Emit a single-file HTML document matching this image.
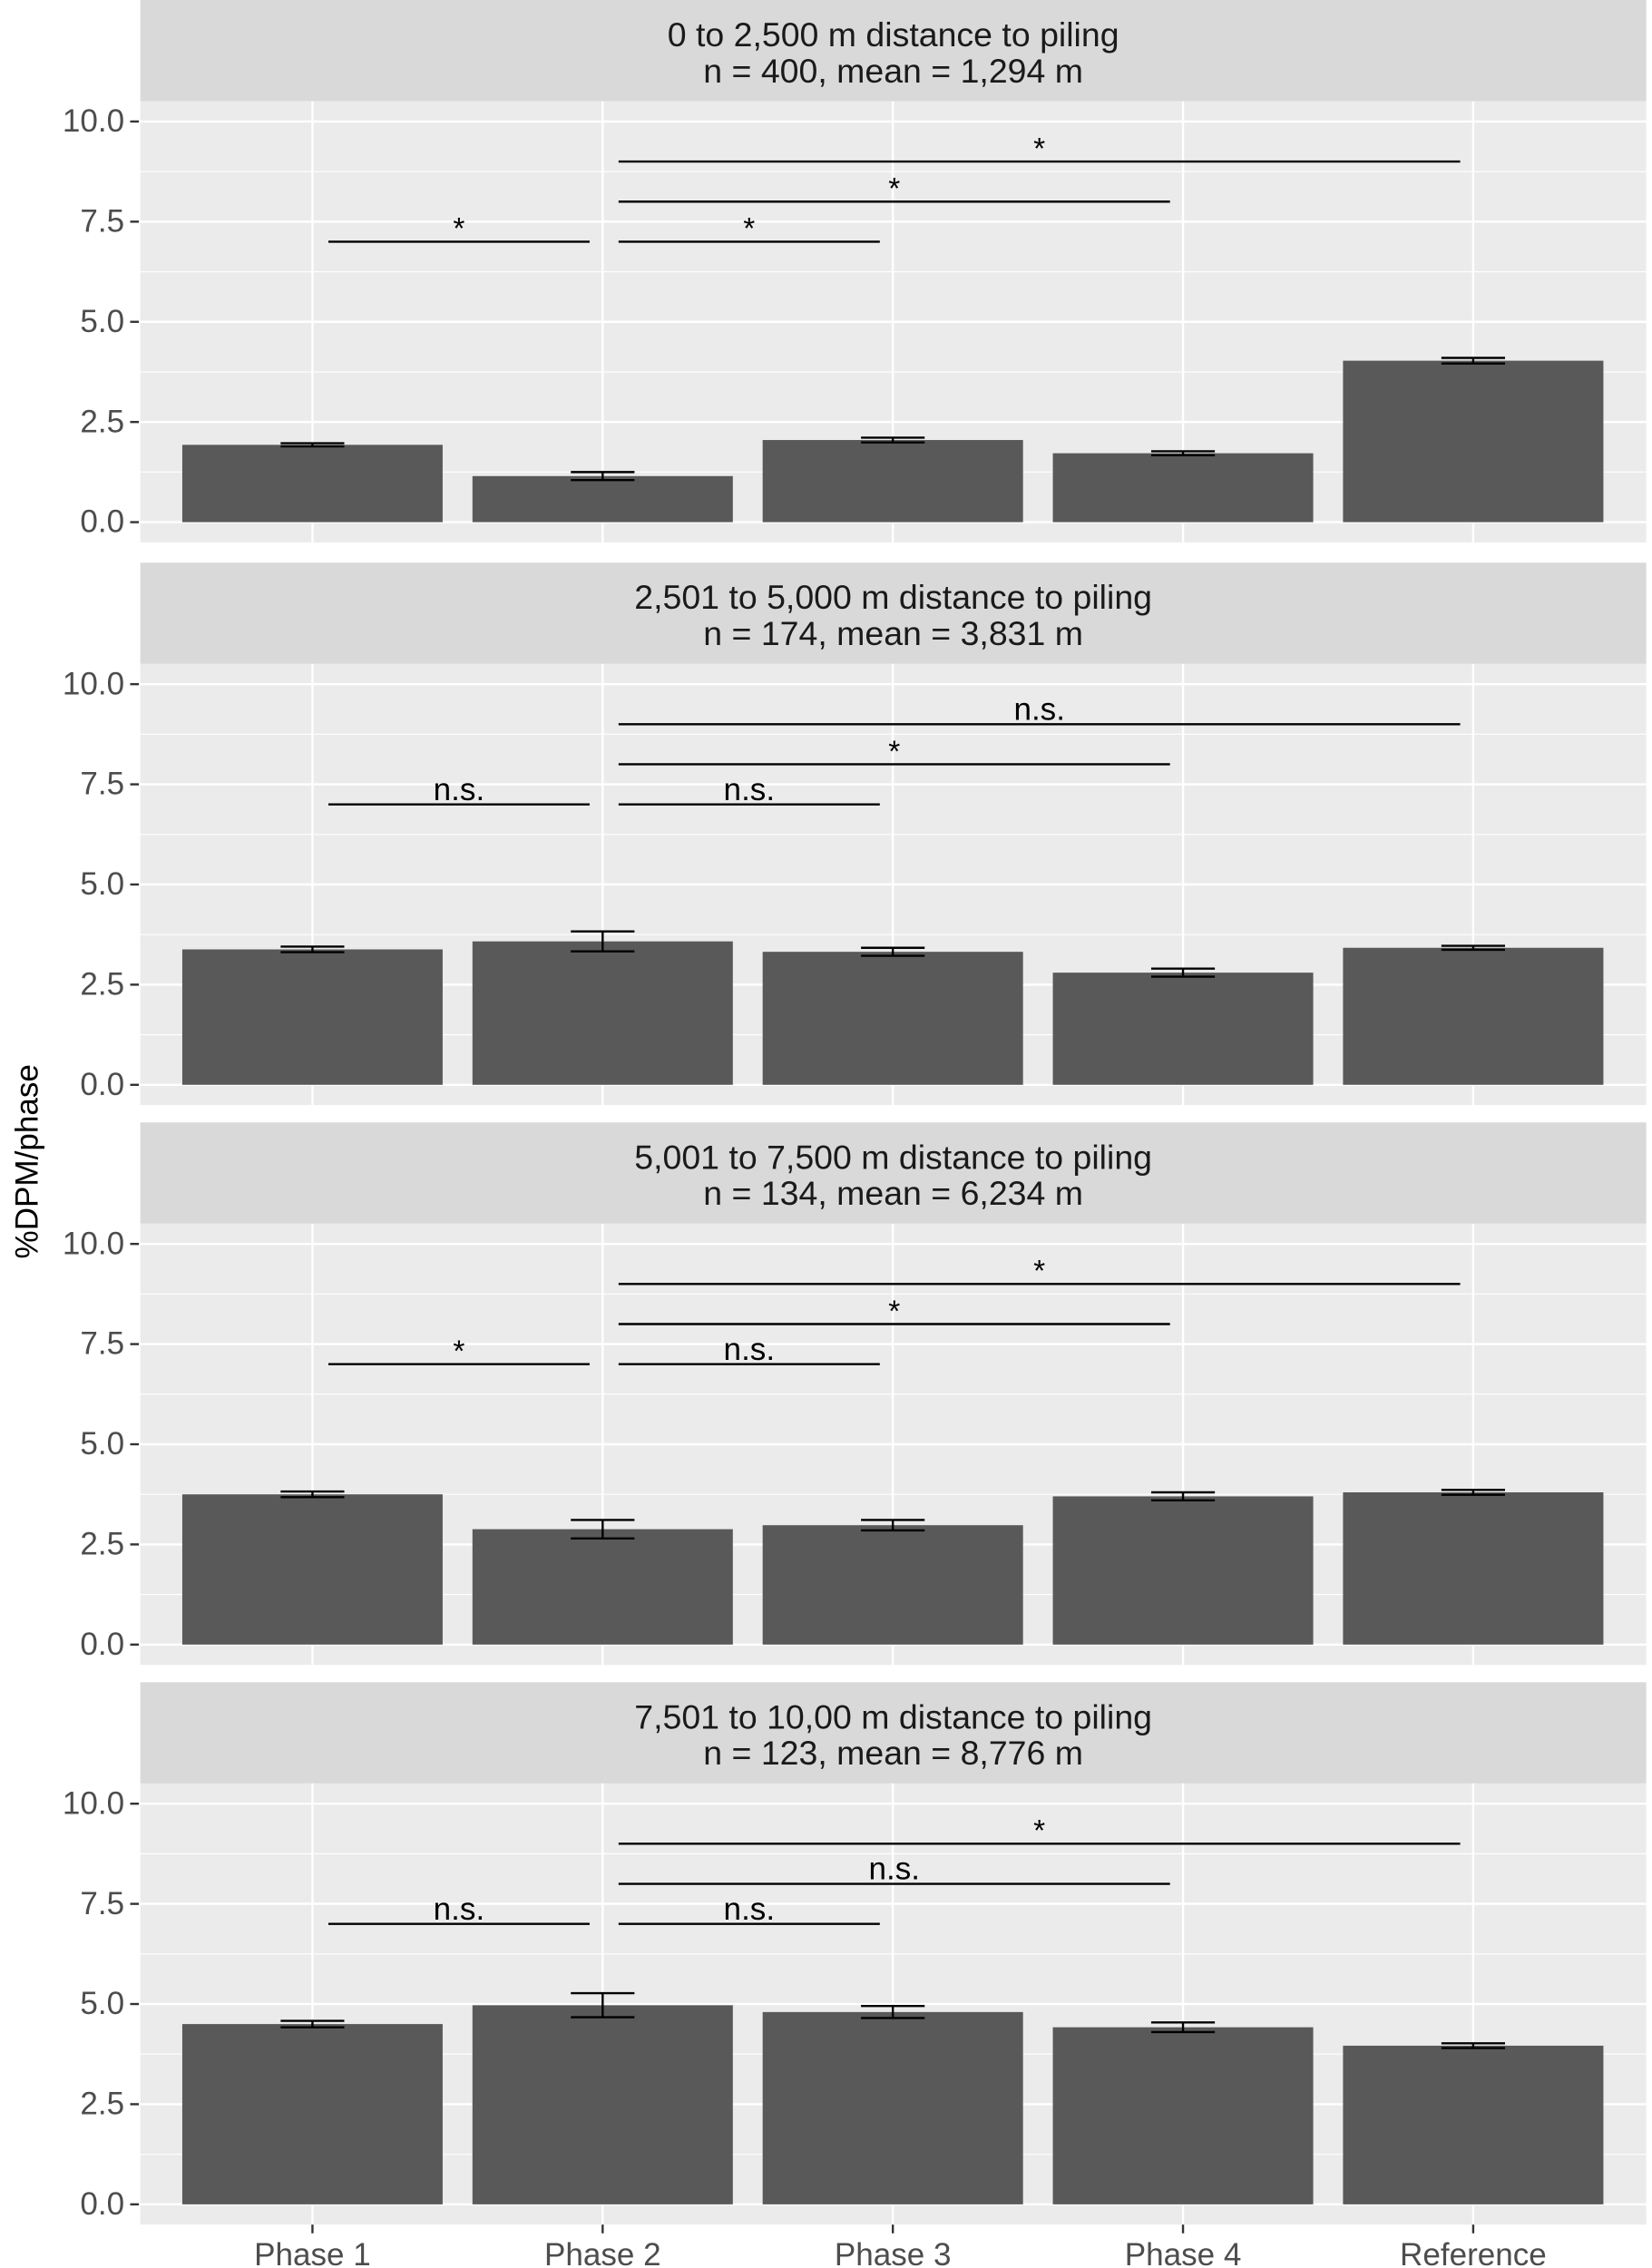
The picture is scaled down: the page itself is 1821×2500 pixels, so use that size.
<!DOCTYPE html>
<html><head><meta charset="utf-8"><style>
html,body{margin:0;padding:0;background:#fff;}
svg{display:block;font-family:"Liberation Sans",sans-serif;}
</style></head><body>
<svg id="chart" width="1821" height="2500" viewBox="0 0 1142 1568" preserveAspectRatio="none" xmlns="http://www.w3.org/2000/svg">
<text x="0" y="0" transform="translate(26,803) rotate(-90)" text-anchor="middle" font-size="22" fill="#000">%DPM/phase</text>
</svg>
<script>
const categories = ["Phase 1","Phase 2","Phase 3","Phase 4","Reference"];
const panelTitles = ["0 to 2,500 m distance to piling","2,501 to 5,000 m distance to piling","5,001 to 7,500 m distance to piling","7,501 to 10,00 m distance to piling"];
const panelSubtitles = ["n = 400, mean = 1,294 m","n = 174, mean = 3,831 m","n = 134, mean = 6,234 m","n = 123, mean = 8,776 m"];
const values1 = [1.93,1.15,2.05,1.72,4.03];
const values2 = [3.38,3.58,3.32,2.80,3.42];
const values3 = [3.75,2.88,2.98,3.70,3.80];
const values4 = [4.50,4.97,4.80,4.42,3.96];
const errors1 = [0.04,0.10,0.06,0.05,0.07];
const errors2 = [0.07,0.25,0.10,0.10,0.05];
const errors3 = [0.07,0.23,0.13,0.10,0.06];
const errors4 = [0.08,0.30,0.15,0.12,0.06];
const sigPairs = [[0,1,7.0],[1,2,7.0],[1,3,8.0],[1,4,9.0]];
const sig1 = ["*","*","*","*"];
const sig2 = ["n.s.","n.s.","*","n.s."];
const sig3 = ["*","n.s.","*","*"];
const sig4 = ["n.s.","n.s.","n.s.","*"];
const yTicks = [0,2.5,5,7.5,10];
const yTickLabels = ["0.0","2.5","5.0","7.5","10.0"];

const allValues=[values1,values2,values3,values4];
const allErrors=[errors1,errors2,errors3,errors4];
const allSig=[sig1,sig2,sig3,sig4];
const NS="http://www.w3.org/2000/svg";
const svg=document.getElementById('chart');
function mk(tag,attrs,parent){const e=document.createElementNS(NS,tag);for(const k in attrs)e.setAttribute(k,attrs[k]);(parent||svg).appendChild(e);return e;}
const plotL=97, plotR=1138;
const xScale=i=>216+i*200.6;
const barW=180;
const panelTop=[0,389,776,1163];
for(let p=0;p<4;p++){
  const t=panelTop[p];
  const y0=t+361, y10=t+84;
  const yScale=v=>y0+(y10-y0)*v/10;
  const g=mk('g',{});
  
  
  const strip=mk('rect',{x:plotL,y:t,width:plotR-plotL,height:70,fill:'#D9D9D9'},g);
  
  
  const st=mk('text',{x:(plotL+plotR)/2,y:t+32,'text-anchor':'middle','font-size':'23.5',fill:'#1A1A1A'},g);
  st.textContent=panelTitles[p];
  
  
  const st2=mk('text',{x:(plotL+plotR)/2,y:t+57,'text-anchor':'middle','font-size':'23.5',fill:'#1A1A1A'},g);
  st2.textContent=panelSubtitles[p];
  
  
  const bg=mk('rect',{x:plotL,y:t+70,width:plotR-plotL,height:305,fill:'#EBEBEB'},g);
  
  
  for(let k=0;k<4;k++){const v=1.25+2.5*k;mk('line',{x1:plotL,x2:plotR,y1:yScale(v),y2:yScale(v),stroke:'#fff','stroke-width':0.7},g);}
  yTicks.forEach((v,k)=>{
    mk('line',{x1:plotL,x2:plotR,y1:yScale(v),y2:yScale(v),stroke:'#fff','stroke-width':1.5},g);
    mk('line',{x1:90,x2:96,y1:yScale(v),y2:yScale(v),stroke:'#333','stroke-width':1.5},g);
    const tl=mk('text',{x:86,y:yScale(v)+7,'text-anchor':'end','font-size':'22',fill:'#4D4D4D'},g);
    tl.textContent=yTickLabels[k];
    
    
  });
  categories.forEach((c,i)=>{
    mk('line',{x1:xScale(i),x2:xScale(i),y1:t+70,y2:t+375,stroke:'#fff','stroke-width':1.5},g);
    if(p===3) mk('line',{x1:xScale(i),x2:xScale(i),y1:t+375,y2:t+381,stroke:'#333','stroke-width':1.5},g);
  });
  allValues[p].forEach((v,i)=>{
    const b=mk('rect',{x:xScale(i)-barW/2,y:yScale(v),width:barW,height:y0-yScale(v),fill:'#595959'},g);
    
    
    const e=allErrors[p][i];
    const eg=mk('g',{stroke:'#000','stroke-width':1.5},g);
    
    
    mk('line',{x1:xScale(i),x2:xScale(i),y1:yScale(v-e),y2:yScale(v+e)},eg);
    mk('line',{x1:xScale(i)-22,x2:xScale(i)+22,y1:yScale(v-e),y2:yScale(v-e)},eg);
    mk('line',{x1:xScale(i)-22,x2:xScale(i)+22,y1:yScale(v+e),y2:yScale(v+e)},eg);
  });
  sigPairs.forEach((sp,k)=>{
    const x1=xScale(sp[0])+11, x2=xScale(sp[1])-9, y=yScale(sp[2]);
    const l=mk('line',{x1:x1,x2:x2,y1:y,y2:y,stroke:'#000','stroke-width':1.5},g);
    
    
    const lab=allSig[p][k];
    const tx=mk('text',{x:(x1+x2)/2,y:lab==='*'?y-2:y-3,'text-anchor':'middle','font-size':lab==='*'?'21':'22',fill:'#000'},g);
    tx.textContent=lab;
    
    
  });
}
categories.forEach((c,i)=>{
  const tl=mk('text',{x:xScale(i),y:1566,'text-anchor':'middle','font-size':'22',fill:'#4D4D4D'});
  tl.textContent=c;
  
  
});
</script>
</body></html>
